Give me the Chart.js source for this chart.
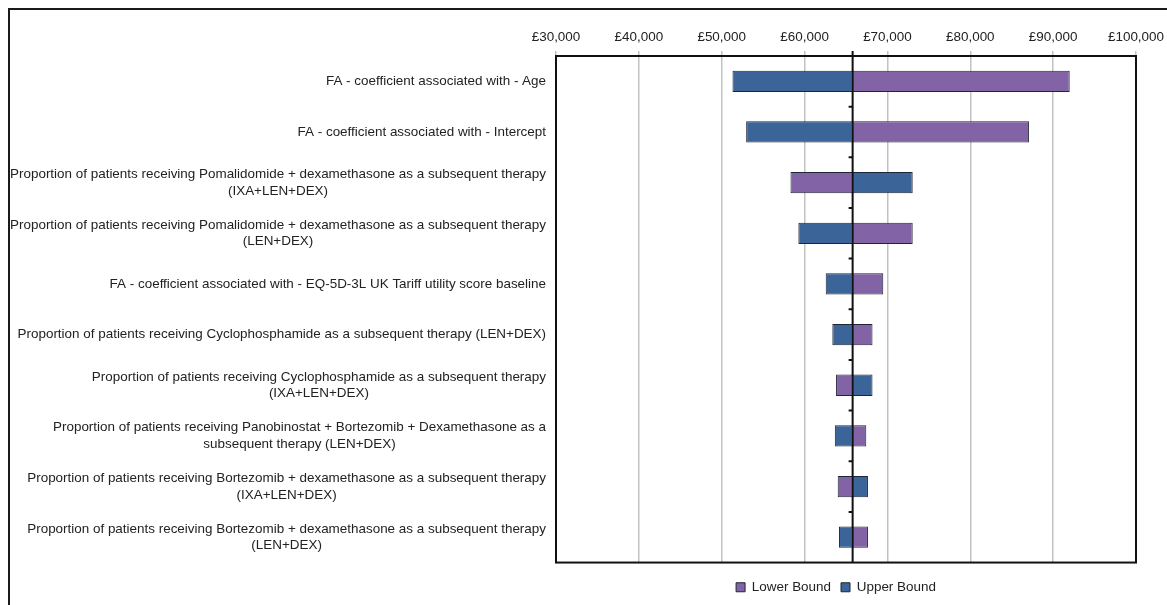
<!DOCTYPE html>
<html>
<head>
<meta charset="utf-8">
<title>Tornado diagram</title>
<script src="https://cdn.jsdelivr.net/npm/chart.js@4.4.0/dist/chart.umd.min.js"></script>
<style>
  html, body { margin: 0; padding: 0; background: #fff; overflow: hidden; }
  #frame { position: absolute; left: 8px; top: 8px; width: 1200px; height: 650px;
           border-left: 2px solid #1a1a1a; border-top: 2px solid #1a1a1a; }
  #wrap { position: absolute; left: 0; top: 0; width: 1167px; height: 605px; }
</style>
</head>
<body>
<div id="frame"></div>
<div id="wrap"><canvas id="tornado"></canvas></div>
<script>
// parameters, one entry per row (lines of the label)
const parameters = [
  ["FA - coefficient associated with - Age"],
  ["FA - coefficient associated with - Intercept"],
  ["Proportion of patients receiving Pomalidomide + dexamethasone as a subsequent therapy", "(IXA+LEN+DEX)"],
  ["Proportion of patients receiving Pomalidomide + dexamethasone as a subsequent therapy", "(LEN+DEX)"],
  ["FA - coefficient associated with - EQ-5D-3L UK Tariff utility score baseline"],
  ["Proportion of patients receiving Cyclophosphamide as a subsequent therapy (LEN+DEX)"],
  ["Proportion of patients receiving Cyclophosphamide as a subsequent therapy", "(IXA+LEN+DEX)"],
  ["Proportion of patients receiving Panobinostat + Bortezomib + Dexamethasone as a", "subsequent therapy (LEN+DEX)"],
  ["Proportion of patients receiving Bortezomib + dexamethasone as a subsequent therapy", "(IXA+LEN+DEX)"],
  ["Proportion of patients receiving Bortezomib + dexamethasone as a subsequent therapy", "(LEN+DEX)"]
];

const baseValue = 65800;

// ICER at lower / upper bound of each parameter (GBP)
const lowerBound = [92000, 87100, 58300, 73050, 69500, 68200, 63800, 67450, 64000, 67650];
const upperBound = [51300, 52950, 73050, 59250, 62550, 63350, 68200, 63650, 67650, 64150];

const xMin = 30000;
const xMax = 100000;
const xStep = 10000;

const colors = {
  purple: "#8263a6",
  blue: "#3b6499",
  edge: "#1e2633",
  grid: "#c2c2c2",
  text: "#222222"
};

const FONT = "Liberation Sans, Arial, sans-serif";
const FONT_SIZE = 13.45;

// y labels: block right aligned, lines centred within the block
const rowLabels = {
  id: "rowLabels",
  afterDraw(chart) {
    const ctx = chart.ctx;
    const y = chart.scales.y;
    const right = chart.chartArea.left - 10;
    const lineH = 16.5;
    ctx.save();
    ctx.font = FONT_SIZE + "px " + FONT;
    ctx.fillStyle = colors.text;
    ctx.textAlign = "center";
    ctx.textBaseline = "middle";
    parameters.forEach((lines, i) => {
      const cy = y.getPixelForValue(i);
      const w = Math.max(...lines.map(l => ctx.measureText(l).width));
      const cx = right - w / 2;
      lines.forEach((l, k) => {
        ctx.fillText(l, cx, cy + (k - (lines.length - 1) / 2) * lineH);
      });
    });
    ctx.restore();
  }
};

// frame round the plot, base-case line and its small ticks
const frameAndBase = {
  id: "frameAndBase",
  afterDatasetsDraw(chart) {
    const ctx = chart.ctx;
    const a = chart.chartArea;
    const x = chart.scales.x;
    const y = chart.scales.y;
    const bx = x.getPixelForValue(baseValue);
    ctx.save();
    ctx.strokeStyle = "#111";
    ctx.lineWidth = 2;
    ctx.strokeRect(a.left, a.top, a.right - a.left, a.bottom - a.top);
    ctx.beginPath();
    ctx.moveTo(bx, a.top - 5);
    ctx.lineTo(bx, a.bottom);
    for (let i = 1; i < parameters.length; i++) {
      const ty = (y.getPixelForValue(i - 1) + y.getPixelForValue(i)) / 2;
      ctx.moveTo(bx - 4, ty);
      ctx.lineTo(bx, ty);
    }
    ctx.stroke();
    ctx.restore();
  }
};

// centre the legend under the plot instead of the whole canvas
const legendUnderPlot = {
  id: "legendUnderPlot",
  afterLayout(chart) {
    const lg = chart.legend;
    if (!lg) return;
    lg.left = 836 - 300;
    lg.right = 836 + 300;
    lg.top += 8;
    lg.bottom += 8;
  }
};

const ctx = document.getElementById("tornado").getContext("2d");

new Chart(ctx, {
  type: "bar",
  data: {
    labels: parameters.map(p => p.join(" ")),
    datasets: [
      {
        label: "Lower Bound",
        data: lowerBound.map(v => [baseValue, v]),
        backgroundColor: colors.purple,
        borderColor: colors.edge,
        borderWidth: 1,
        borderSkipped: false
      },
      {
        label: "Upper Bound",
        data: upperBound.map(v => [baseValue, v]),
        backgroundColor: colors.blue,
        borderColor: colors.edge,
        borderWidth: 1,
        borderSkipped: false
      }
    ]
  },
  options: {
    indexAxis: "y",
    responsive: true,
    maintainAspectRatio: false,
    animation: false,
    grouped: false,
    barPercentage: 0.42,
    categoryPercentage: 1,
    layout: { padding: { top: 0, right: 31, bottom: 9, left: 0 } },
    scales: {
      x: {
        position: "top",
        min: xMin,
        max: xMax,
        ticks: {
          stepSize: xStep,
          padding: 6,
          color: colors.text,
          font: { family: FONT, size: FONT_SIZE },
          callback: v => "£" + Number(v).toLocaleString("en-GB")
        },
        grid: { color: colors.grid, lineWidth: 1.5, tickLength: 5 },
        border: { display: false },
        afterFit(scale) {
          scale.height = 56;
          scale.paddingLeft = 0;
          scale.paddingRight = 0;
        }
      },
      y: {
        ticks: { display: false },
        grid: { display: false },
        border: { display: false },
        afterFit(scale) { scale.width = 556; }
      }
    },
    plugins: {
      legend: {
        position: "bottom",
        labels: {
          boxWidth: 9,
          boxHeight: 9,
          padding: 10,
          color: colors.text,
          font: { family: FONT, size: FONT_SIZE }
        }
      },
      tooltip: { enabled: false }
    }
  },
  plugins: [rowLabels, frameAndBase, legendUnderPlot]
});
</script>
</body>
</html>
